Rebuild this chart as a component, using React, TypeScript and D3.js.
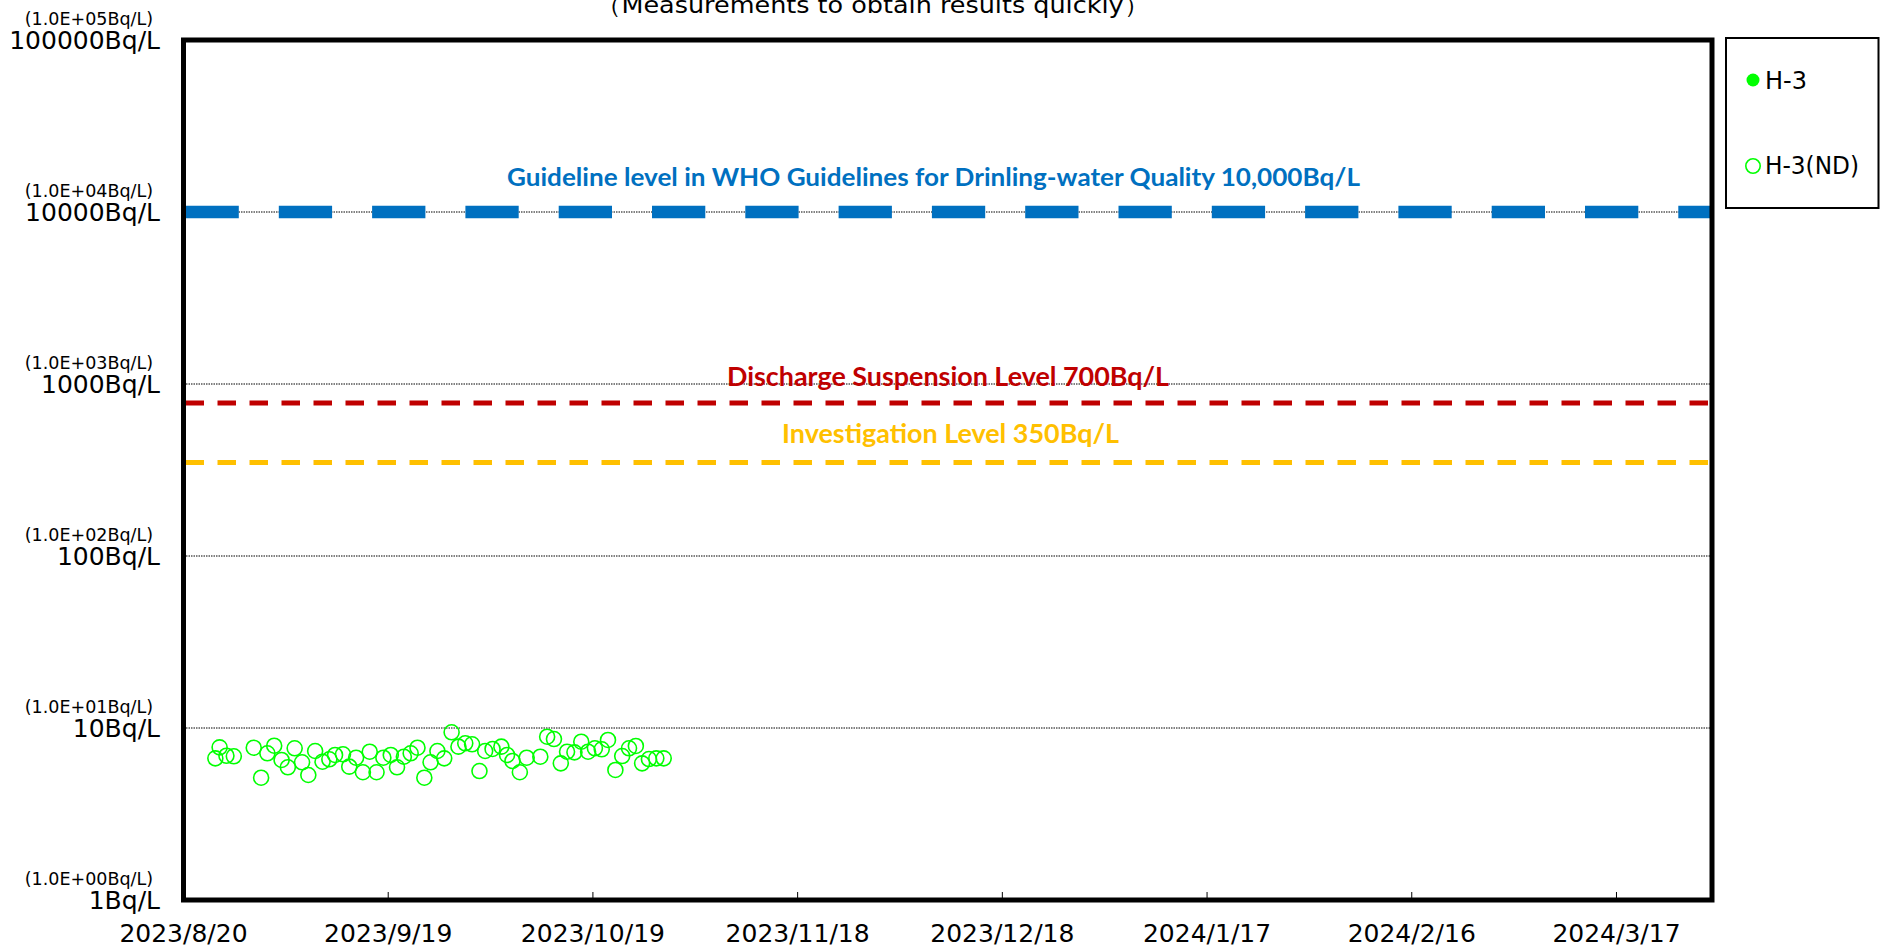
import React from "react";
import * as d3 from "d3";

// ---------------- DATA ----------------
const subtitle = "（Measurements to obtain results quickly）";

// H-3 (ND) sampling times and values (Bq/L)
const ndDates = [
  "2023-08-24 16:00", "2023-08-25 07:00", "2023-08-26 07:00", "2023-08-27 09:00",
  "2023-08-30 07:00", "2023-08-31 09:00", "2023-09-01 07:00", "2023-09-02 07:00",
  "2023-09-03 09:00", "2023-09-04 07:00", "2023-09-05 07:00", "2023-09-06 09:00",
  "2023-09-07 07:00", "2023-09-08 07:00", "2023-09-09 09:00", "2023-09-10 09:00",
  "2023-09-11 05:00", "2023-09-12 09:00", "2023-09-13 07:00", "2023-09-14 07:00",
  "2023-09-15 07:00", "2023-09-16 07:00", "2023-09-17 07:00", "2023-09-18 07:00",
  "2023-09-19 09:00", "2023-09-20 07:00", "2023-09-21 07:00", "2023-09-22 07:00",
  "2023-09-23 07:00", "2023-09-24 07:00", "2023-09-25 05:00", "2023-09-26 05:00",
  "2023-09-27 05:00", "2023-09-28 07:00", "2023-09-29 07:00", "2023-09-30 07:00",
  "2023-10-01 07:00", "2023-10-02 09:00", "2023-10-03 05:00", "2023-10-04 07:00",
  "2023-10-05 14:00", "2023-10-06 10:00", "2023-10-07 05:00", "2023-10-08 07:00",
  "2023-10-09 07:00", "2023-10-11 07:00", "2023-10-12 07:00", "2023-10-13 07:00",
  "2023-10-14 07:00", "2023-10-15 05:00", "2023-10-16 07:00", "2023-10-17 07:00",
  "2023-10-18 07:00", "2023-10-19 07:00", "2023-10-20 07:00", "2023-10-21 05:00",
  "2023-10-22 07:00", "2023-10-23 07:00", "2023-10-24 07:00", "2023-10-25 07:00",
  "2023-10-26 05:00", "2023-10-27 05:00", "2023-10-28 07:00", "2023-10-29 09:00",
];
const ndValues = [
  6.66, 7.72, 6.9, 6.85, 7.68, 5.14, 7.13, 7.89,
  6.52, 5.91, 7.62, 6.32, 5.33, 7.35, 6.37, 6.58,
  6.97, 7.03, 5.96, 6.72, 5.53, 7.28, 5.53, 6.72,
  6.97, 5.91, 6.81, 7.13, 7.68, 5.14, 6.32, 7.35,
  6.66, 9.44, 7.79, 8.15, 8.04, 5.62, 7.35, 7.55,
  7.79, 6.97, 6.43, 5.53, 6.72, 6.81, 8.9, 8.63,
  6.23, 7.28, 7.22, 8.32, 7.28, 7.62, 7.52, 8.52,
  5.7, 6.87, 7.62, 7.86, 6.23, 6.6, 6.66, 6.66,
];
// H-3 (detected): no detections in this period
const detectedDates: string[] = [];
const detectedValues: number[] = [];

const seriesNames = ["H-3", "H-3(ND)"];

const xStart = "2023-08-20";
const xEnd = "2024-03-31";
const xTickStepDays = 30;
const xTickCount = 8;

const yTickValues = [1, 10, 100, 1000, 10000, 100000];
const yTickLabels = ["1Bq/L", "10Bq/L", "100Bq/L", "1000Bq/L", "10000Bq/L", "100000Bq/L"];
const yTickSubLabels = [
  "(1.0E+00Bq/L)", "(1.0E+01Bq/L)", "(1.0E+02Bq/L)",
  "(1.0E+03Bq/L)", "(1.0E+04Bq/L)", "(1.0E+05Bq/L)",
];

const refValues = [10000, 775, 350];
const refLabels = [
  "Guideline level in WHO Guidelines for Drinling-water Quality 10,000Bq/L",
  "Discharge Suspension Level 700Bq/L",
  "Investigation Level 350Bq/L",
];

// ---------------- STYLE / LAYOUT ----------------
const W = 1880;
const H = 948;
const plot = { left: 183.5, right: 1712, top: 40, bottom: 900 };
const GREEN = "#00FF00";
const refStyles = [
  { color: "#0070C0", width: 12.3, dash: "53.3 40", labelCx: 933.5, labelDy: -26, labelLen: 853, fontSize: 25 },
  { color: "#C00000", width: 5, dash: "18.5 13.5", labelCx: 948, labelDy: -17, labelLen: 442, fontSize: 26 },
  { color: "#FFC000", width: 5, dash: "18.5 13.5", labelCx: 950.5, labelDy: -19, labelLen: 337, fontSize: 26 },
];
const axisFont = "'DejaVu Sans', sans-serif";
const labelFont = "Lato, 'Open Sans', sans-serif";

export default function App() {
  const parse = d3.timeParse("%Y-%m-%d %H:%M");
  const parseDay = d3.timeParse("%Y-%m-%d");
  const x0 = parseDay(xStart) as Date;
  const x1 = parseDay(xEnd) as Date;
  const x = d3.scaleTime().domain([x0, x1]).range([plot.left, plot.right]);
  const y = d3.scaleLog().domain([1, 100000]).range([plot.bottom, plot.top]);
  const xTicks = d3.range(xTickCount).map((i) => d3.timeDay.offset(x0, i * xTickStepDays));
  const fmt = d3.timeFormat("%Y/%-m/%-d");

  const ndPoints = ndDates.map((d, i) => ({ t: parse(d) as Date, v: ndValues[i] }));
  const detPoints = detectedDates.map((d, i) => ({ t: parse(d) as Date, v: detectedValues[i] }));

  return (
    <svg
      width={W}
      height={H}
      viewBox={`0 0 ${W} ${H}`}
      style={{ position: "absolute", left: 0, top: 0, background: "#fff" }}
    >
      <defs>
        <clipPath id="plotClip">
          <rect x={plot.left} y={plot.top} width={plot.right - plot.left} height={plot.bottom - plot.top} />
        </clipPath>
      </defs>
      <rect x={0} y={0} width={W} height={H} fill="#fff" />

      {/* subtitle (cut at the top) */}
      <text x={596} y={13} fontFamily={axisFont} fontSize={23} textLength={553} lengthAdjust="spacingAndGlyphs" fill="#000">
        {subtitle}
      </text>

      {/* gridlines */}
      {yTickValues.slice(1, -1).map((v) => (
        <line key={v} x1={plot.left} x2={plot.right} y1={y(v)} y2={y(v)} stroke="#000" strokeWidth={1} strokeDasharray="1.5 1" />
      ))}

      {/* reference lines */}
      <g clipPath="url(#plotClip)">
        {refValues.map((v, i) => (
          <line
            key={i}
            x1={plot.left + 2}
            x2={plot.right}
            y1={y(v)}
            y2={y(v)}
            stroke={refStyles[i].color}
            strokeWidth={refStyles[i].width}
            strokeDasharray={refStyles[i].dash}
          />
        ))}
      </g>
      {refValues.map((v, i) => (
        <text
          key={i}
          x={refStyles[i].labelCx}
          y={y(v) + refStyles[i].labelDy}
          textAnchor="middle"
          fontFamily={labelFont}
          fontWeight={700}
          fontSize={refStyles[i].fontSize}
          textLength={refStyles[i].labelLen}
          lengthAdjust="spacingAndGlyphs"
          fill={refStyles[i].color}
        >
          {refLabels[i]}
        </text>
      ))}

      {/* x ticks */}
      {xTicks.map((t, i) => (
        <g key={i}>
          {i > 0 && <line x1={x(t)} x2={x(t)} y1={plot.bottom} y2={plot.bottom - 8} stroke="#000" strokeWidth={1} />}
          <text x={x(t)} y={942} textAnchor="middle" fontFamily={axisFont} fontSize={25} fill="#000">
            {fmt(t)}
          </text>
        </g>
      ))}

      {/* y labels */}
      {yTickValues.map((v, i) => (
        <g key={v}>
          <text x={153} y={y(v) - 15.5} textAnchor="end" fontFamily={axisFont} fontSize={17.5} fill="#000">
            {yTickSubLabels[i]}
          </text>
          <text x={160} y={y(v) + 9} textAnchor="end" fontFamily={axisFont} fontSize={25} fill="#000">
            {yTickLabels[i]}
          </text>
        </g>
      ))}

      {/* data */}
      <g clipPath="url(#plotClip)">
        {detPoints.map((p, i) => (
          <circle key={"d" + i} cx={x(p.t)} cy={y(p.v)} r={6.5} fill={GREEN} />
        ))}
        {ndPoints.map((p, i) => (
          <circle key={"n" + i} cx={x(p.t)} cy={y(p.v)} r={7.5} fill="none" stroke={GREEN} strokeWidth={1.6} />
        ))}
      </g>

      {/* frame */}
      <rect
        x={plot.left}
        y={plot.top}
        width={plot.right - plot.left}
        height={plot.bottom - plot.top}
        fill="none"
        stroke="#000"
        strokeWidth={5}
      />

      {/* legend */}
      <rect x={1726} y={38} width={152.5} height={170} fill="#fff" stroke="#000" strokeWidth={2} />
      <circle cx={1753} cy={80} r={6.5} fill={GREEN} />
      <text x={1765} y={89} fontFamily={axisFont} fontSize={24} fill="#000">{seriesNames[0]}</text>
      <circle cx={1753} cy={166} r={7.2} fill="none" stroke={GREEN} strokeWidth={1.6} />
      <text x={1765} y={174} fontFamily={axisFont} fontSize={24} fill="#000" textLength={94} lengthAdjust="spacingAndGlyphs">{seriesNames[1]}</text>
    </svg>
  );
}
